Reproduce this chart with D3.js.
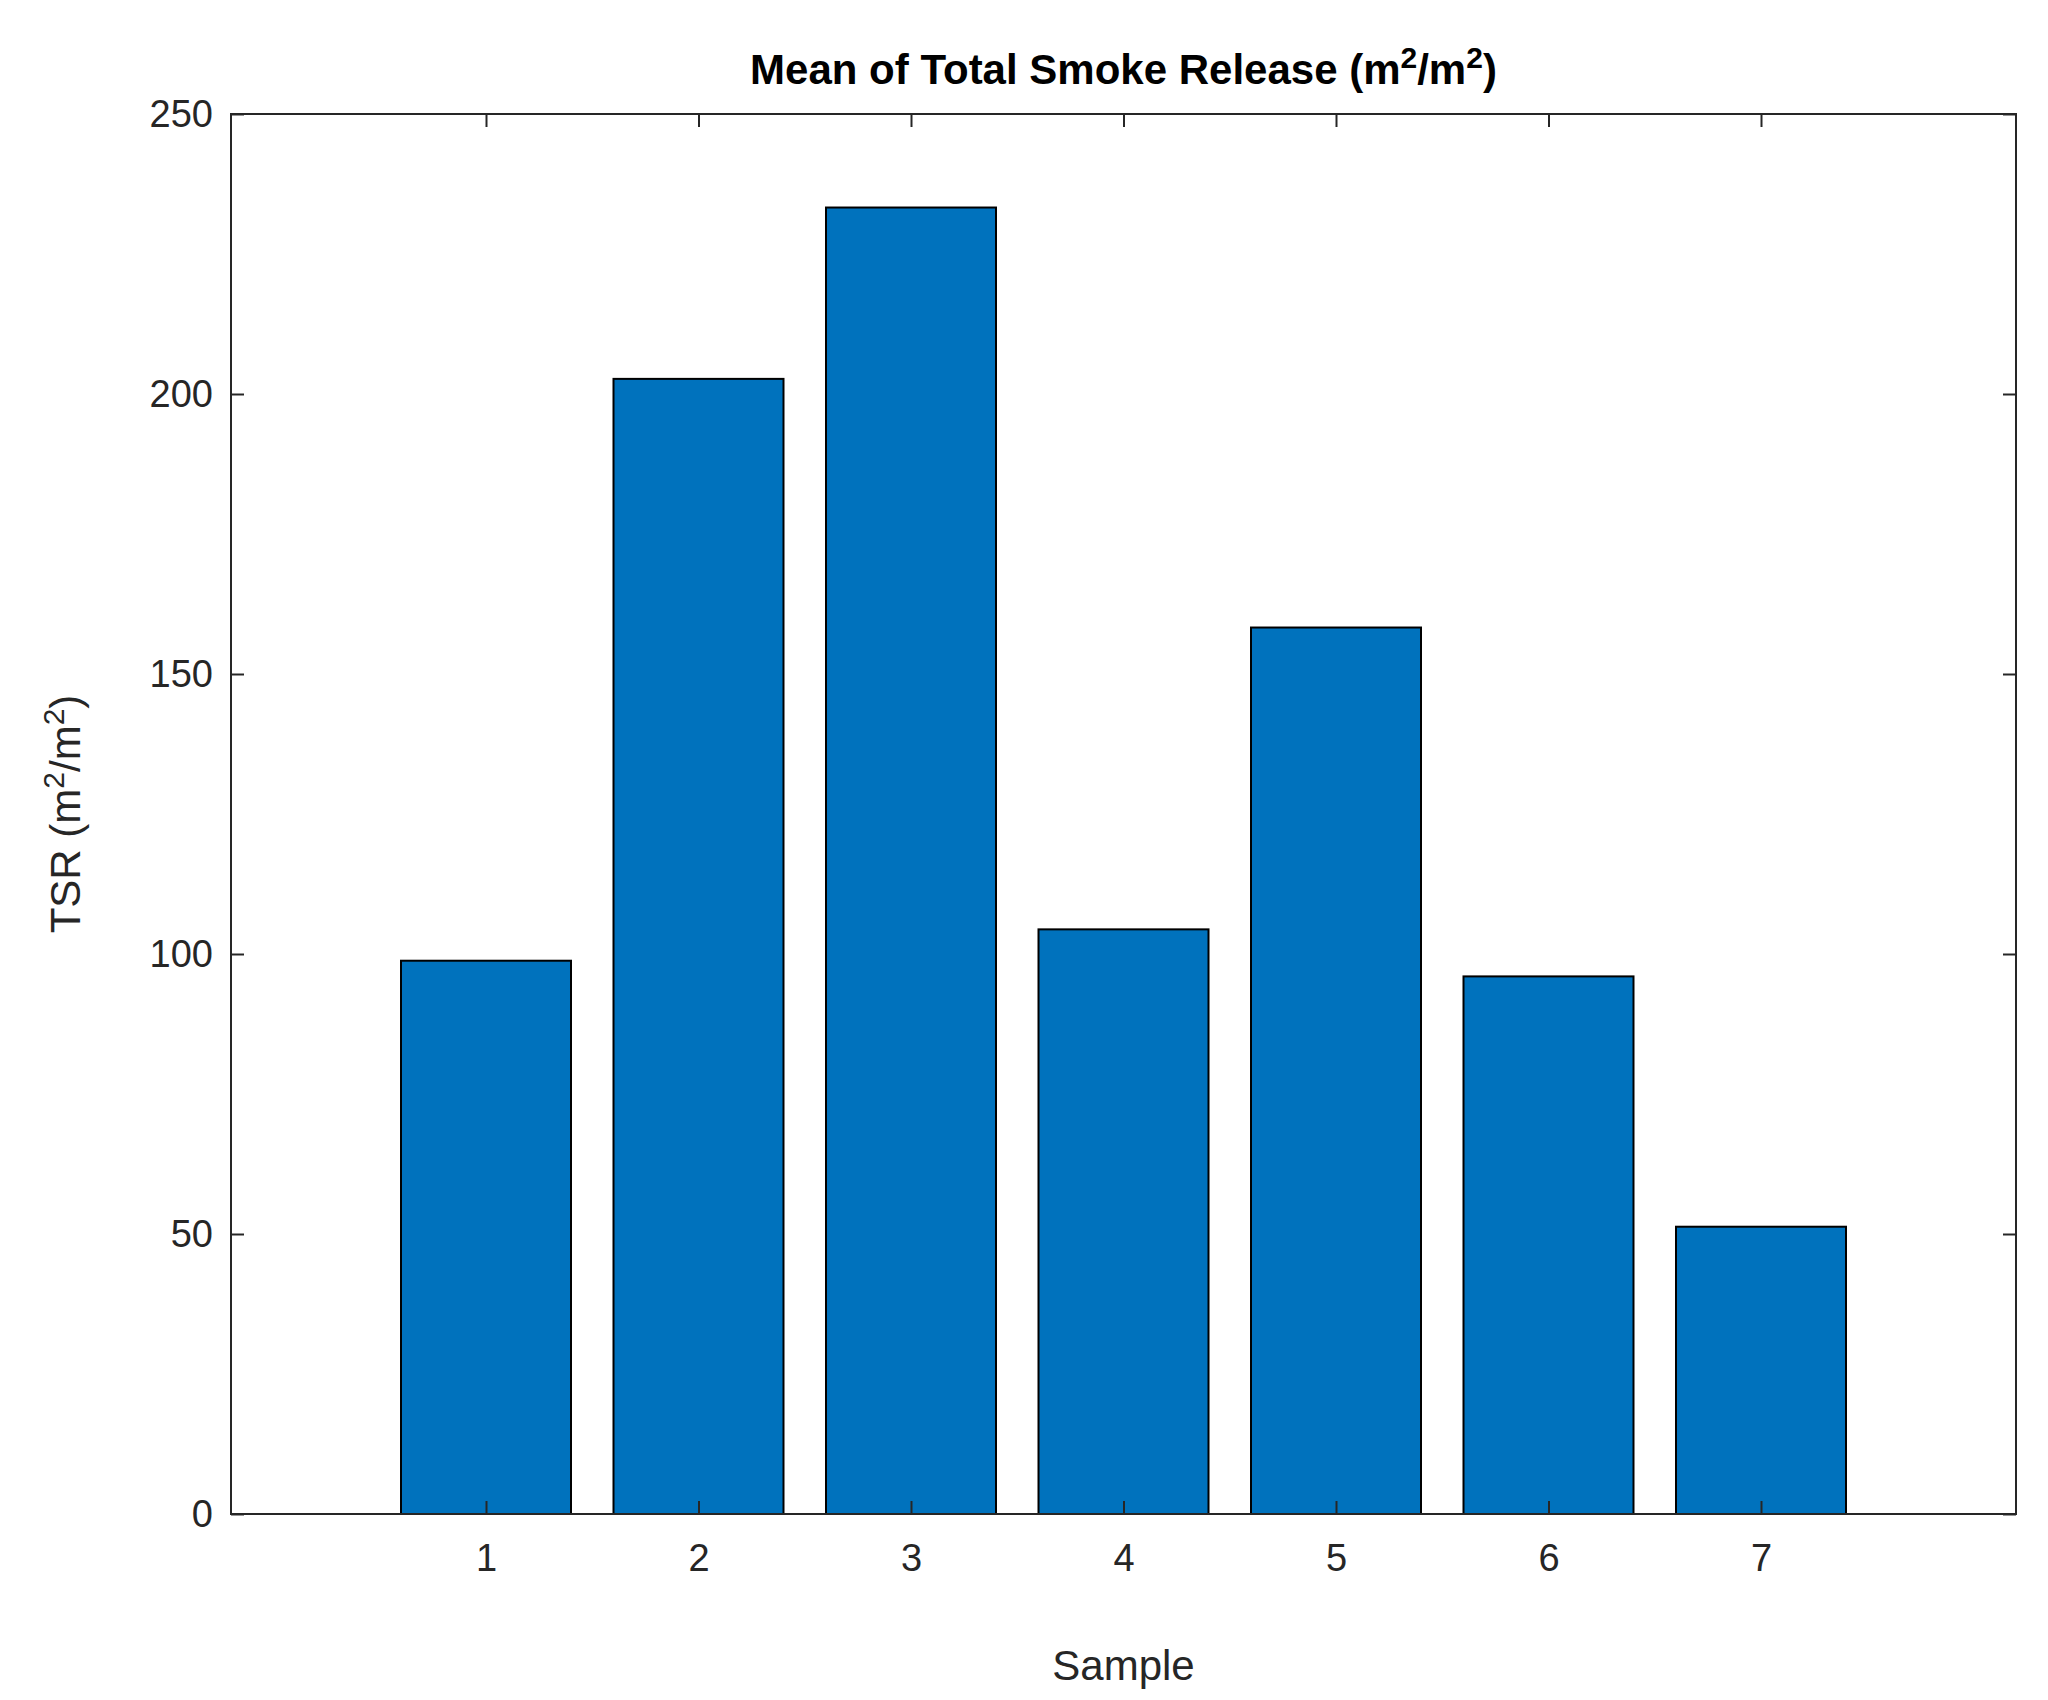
<!DOCTYPE html>
<html>
<head>
<meta charset="utf-8">
<script src="https://cdn.jsdelivr.net/npm/d3@7"></script>
<style>
  body { margin: 0; background: #fff; }
  text { font-family: Arial, "Liberation Sans", sans-serif; }
</style>
</head>
<body>
<svg id="chart" width="2048" height="1700"></svg>
<script>
// chart data
const samples = [1, 2, 3, 4, 5, 6, 7];
const tsrValues = [98.8, 202.7, 233.3, 104.4, 158.3, 96.0, 51.3];
const yTicks = [0, 50, 100, 150, 200, 250];

const svg = d3.select('#chart');
const margin = { left: 231, right: 32, top: 114, bottom: 186 };
const width = 2048 - margin.left - margin.right;
const height = 1700 - margin.top - margin.bottom;

const g = svg.append('g').attr('transform', `translate(${margin.left},${margin.top})`);

const x = d3.scaleLinear().domain([-0.2, 8.2]).range([0, width]);
const y = d3.scaleLinear().domain([0, 250]).range([height, 0]);
const barW = x(0.8) - x(0);

// bars
g.selectAll('rect.bar')
  .data(samples)
  .join('rect')
  .attr('class', 'bar')
  .attr('x', (d) => x(d) - barW / 2)
  .attr('y', (d, i) => y(tsrValues[i]))
  .attr('width', barW)
  .attr('height', (d, i) => height - y(tsrValues[i]))
  .attr('fill', '#0072bd')
  .attr('stroke', '#000')
  .attr('stroke-width', 2);

const tickLen = 13;
function styleAxis(sel) {
  sel.select('.domain').remove();
  sel.selectAll('line').attr('stroke', '#262626').attr('stroke-width', 2);
  sel.selectAll('text').attr('fill', '#262626').style('font-size', '38px');
}

// axes, ticks pointing inward on all four sides
g.append('g').attr('transform', `translate(0,${height})`)
  .call(d3.axisBottom(x).tickValues(samples).tickSize(-tickLen).tickPadding(30))
  .call(styleAxis);
g.append('g')
  .call(d3.axisTop(x).tickValues(samples).tickSize(-tickLen).tickFormat(''))
  .call(styleAxis);
g.append('g')
  .call(d3.axisLeft(y).tickValues(yTicks).tickSize(-tickLen).tickPadding(18))
  .call(styleAxis);
g.append('g').attr('transform', `translate(${width},0)`)
  .call(d3.axisRight(y).tickValues(yTicks).tickSize(-tickLen).tickFormat(''))
  .call(styleAxis);

g.append('rect')
  .attr('width', width).attr('height', height)
  .attr('fill', 'none').attr('stroke', '#262626').attr('stroke-width', 2);

// title
const title = svg.append('text')
  .attr('x', margin.left + width / 2).attr('y', 84)
  .attr('text-anchor', 'middle')
  .style('font-size', '42px').style('font-weight', 'bold').attr('fill', '#000');
title.append('tspan').text('Mean of Total Smoke Release (m');
title.append('tspan').attr('dy', -16).style('font-size', '30px').text('2');
title.append('tspan').attr('dy', 16).text('/m');
title.append('tspan').attr('dy', -16).style('font-size', '30px').text('2');
title.append('tspan').attr('dy', 16).text(')');

// axis labels
svg.append('text')
  .attr('x', margin.left + width / 2).attr('y', 1680)
  .attr('text-anchor', 'middle').style('font-size', '42px').attr('fill', '#262626')
  .text('Sample');

const yl = svg.append('text')
  .attr('transform', `translate(80,${margin.top + height / 2}) rotate(-90)`)
  .attr('text-anchor', 'middle').style('font-size', '42px').attr('fill', '#262626');
yl.append('tspan').text('TSR (m');
yl.append('tspan').attr('dy', -16).style('font-size', '30px').text('2');
yl.append('tspan').attr('dy', 16).text('/m');
yl.append('tspan').attr('dy', -16).style('font-size', '30px').text('2');
yl.append('tspan').attr('dy', 16).text(')');
</script>
</body>
</html>
